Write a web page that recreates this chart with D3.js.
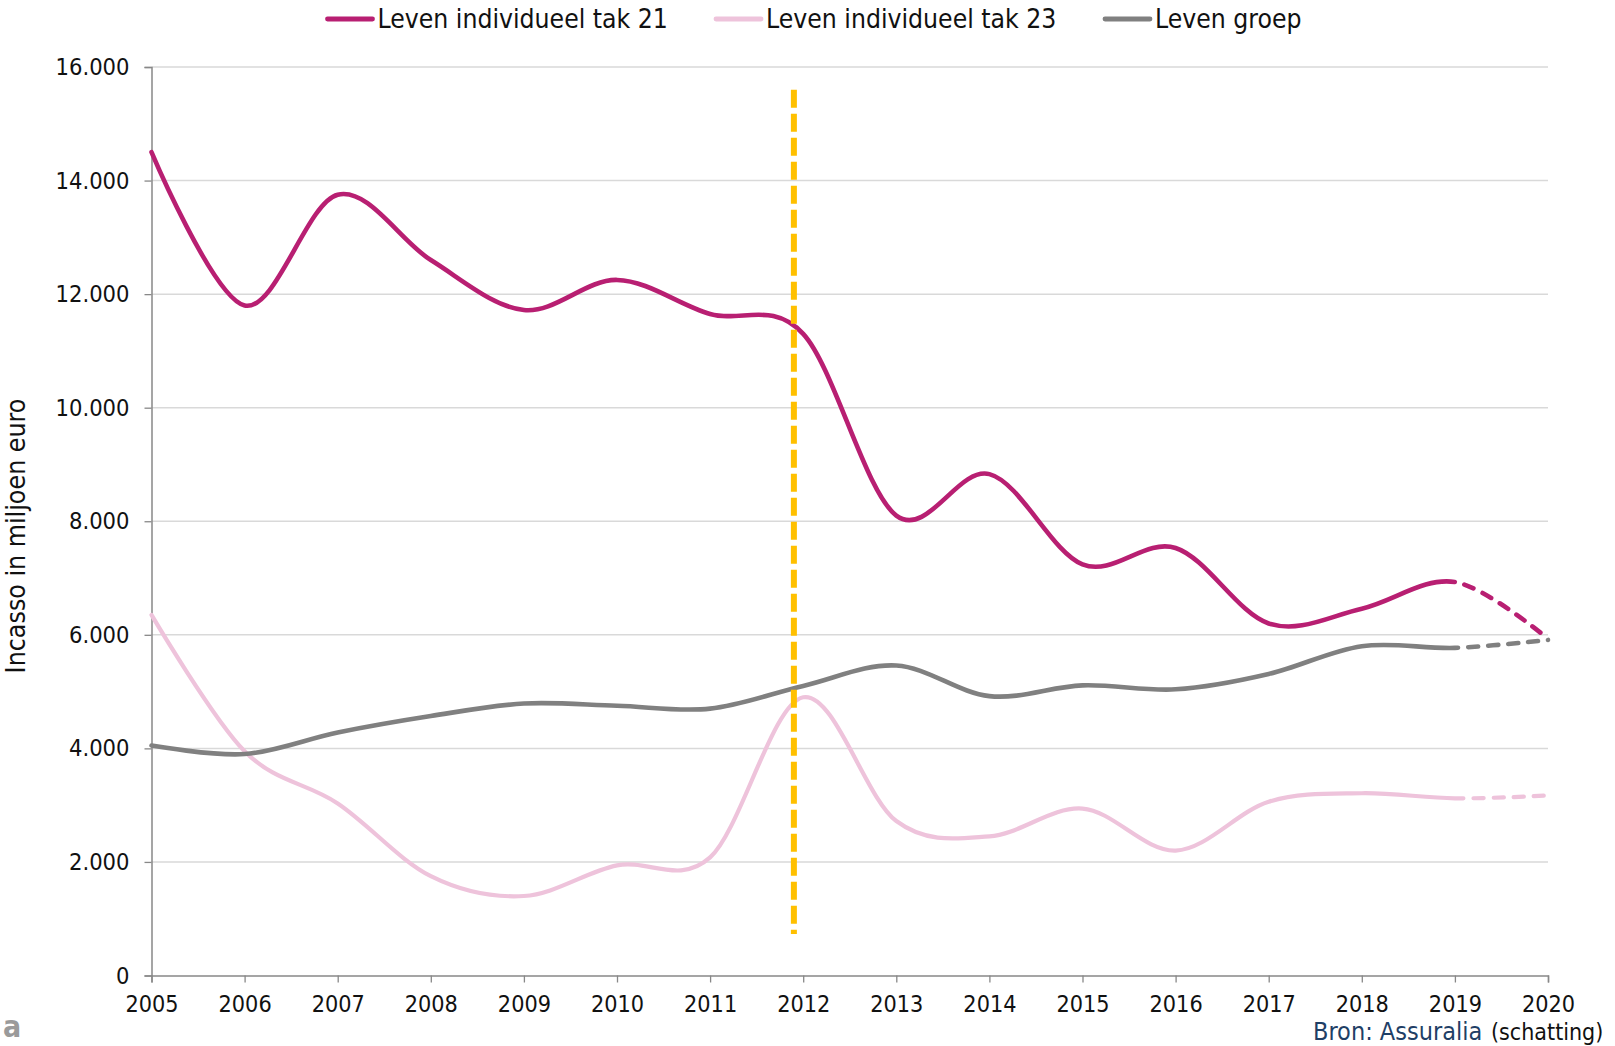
<!DOCTYPE html>
<html><head><meta charset="utf-8">
<script src="https://cdn.jsdelivr.net/npm/d3@7"></script>
<style>
html,body{margin:0;padding:0;background:#fff;overflow:hidden}
text{font-family:"DejaVu Sans Condensed","DejaVu Sans",sans-serif}
</style></head>
<body>
<svg id="chart" width="1615" height="1046"></svg>
<script>
const years = [2005,2006,2007,2008,2009,2010,2011,2012,2013,2014,2015,2016,2017,2018,2019,2020];
const xTickLabels = ["2005","2006","2007","2008","2009","2010","2011","2012","2013","2014","2015","2016","2017","2018","2019","2020"];
const tak21 = [14500,11800,13750,12600,11720,12250,11650,11300,8100,8830,7240,7530,6200,6460,6930,5930];
const tak23 = [6350,3950,3030,1750,1400,1940,2080,4900,2720,2450,2940,2200,3060,3210,3120,3170];
const groep = [4050,3900,4280,4570,4790,4750,4700,5100,5460,4920,5110,5040,5310,5800,5770,5910];
const yTicks = [0,2000,4000,6000,8000,10000,12000,14000,16000];
const seriesNames = ["Leven individueel tak 21","Leven individueel tak 23","Leven groep"];
const estimateFromYear = 2019;
const markerYear = 2011.9;
const markerRange = [730, 15600];

const colors = ["#B81F72","#EEC3DB","#808080"];
const svg = d3.select("#chart");
const W = 1615, H = 1046;
const m = {left:151.5, right:W-1548, top:67, bottom:H-975.5};
const x = d3.scaleLinear().domain([2005,2020]).range([m.left, W-m.right]);
const y = d3.scaleLinear().domain([0,16000]).range([H-m.bottom, m.top]);
const loc = d3.formatLocale({decimal:",", thousands:".", grouping:[3], currency:["",""]});
const fmt = loc.format(",");

// gridlines
svg.append("g").selectAll("line").data(yTicks.filter(d=>d>0)).join("line")
  .attr("x1", x(2005)).attr("x2", x(2020))
  .attr("y1", d=>y(d)).attr("y2", d=>y(d))
  .attr("stroke","#D9D9D9").attr("stroke-width",1.5);

// y axis
const yAxis = svg.append("g").attr("transform",`translate(${x(2005)},0)`)
  .call(d3.axisLeft(y).tickValues(yTicks).tickFormat(d=>fmt(d)).tickSize(7).tickPadding(15));
yAxis.select(".domain").attr("stroke","#888").attr("stroke-width",1.5);
yAxis.selectAll(".tick line").attr("stroke","#888").attr("stroke-width",1.3);
yAxis.selectAll("text").attr("font-size",23.5).attr("fill","#111").attr("font-family","DejaVu Sans Condensed");

// x axis
const xAxis = svg.append("g").attr("transform",`translate(0,${y(0)})`)
  .call(d3.axisBottom(x).tickValues(years).tickFormat((d,i)=>xTickLabels[i]).tickSize(7).tickPadding(13));
xAxis.select(".domain").attr("stroke","#888").attr("stroke-width",1.5);
xAxis.selectAll(".tick line").attr("stroke","#888").attr("stroke-width",1.3);
xAxis.selectAll("text").attr("font-size",23.2).attr("fill","#111").attr("font-family","DejaVu Sans Condensed");

// clips
const defs = svg.append("defs");
defs.append("clipPath").attr("id","solidClip").append("rect")
  .attr("x",0).attr("y",0).attr("width",x(estimateFromYear)).attr("height",H);
defs.append("clipPath").attr("id","dashClip").append("rect")
  .attr("x",x(estimateFromYear)).attr("y",0).attr("width",W).attr("height",H);

const line = d3.line().x(d=>x(d[0])).y(d=>y(d[1])).curve(d3.curveCatmullRom.alpha(0));
const allSeries = [tak21, tak23, groep];
const widths = [4.6, 4.2, 4.6];
// draw in order: pink, gray, magenta
[1,2,0].forEach(i=>{
  const pts = years.map((yr,j)=>[yr, allSeries[i][j]]);
  svg.append("path").attr("d", line(pts)).attr("fill","none")
    .attr("stroke", colors[i]).attr("stroke-width", widths[i]).attr("stroke-linecap","round")
    .attr("clip-path","url(#solidClip)");
  svg.append("path").attr("d", line(pts)).attr("fill","none")
    .attr("stroke", colors[i]).attr("stroke-width", widths[i]).attr("stroke-linecap","round")
    .attr("stroke-dasharray","10,10")
    .attr("clip-path","url(#dashClip)");
});

// marker vertical dashed
svg.append("line")
  .attr("x1", x(markerYear)).attr("x2", x(markerYear))
  .attr("y1", y(markerRange[1])).attr("y2", y(markerRange[0]))
  .attr("stroke","#FFC000").attr("stroke-width",6).attr("stroke-dasharray","18,6");

// y title
svg.append("text").attr("transform","translate(25,536) rotate(-90)")
  .attr("text-anchor","middle").attr("font-size",26.5).attr("fill","#111")
  .text("Incasso  in miljoen euro");

// legend
const legX = [327.5, 716, 1105];
const lg = svg.append("g");
seriesNames.forEach((n,i)=>{
  lg.append("line").attr("x1",legX[i]).attr("x2",legX[i]+45).attr("y1",19).attr("y2",19)
    .attr("stroke",colors[i]).attr("stroke-width",4.8).attr("stroke-linecap","round");
  lg.append("text").attr("x",legX[i]+50).attr("y",19).attr("dy","0.35em")
    .attr("font-size",26.3).attr("fill","#111").text(n);
});

// source
svg.append("text").attr("x",1313).attr("y",1040).attr("font-size",25)
  .attr("font-family","Liberation Sans, Arial, sans-serif").attr("fill","#1F3F66").text("Bron: Assuralia");
svg.append("text").attr("x",1491).attr("y",1040).attr("font-size",23)
  .attr("fill","#111").text("(schatting)");
svg.append("text").attr("x",3).attr("y",1037).attr("font-size",30).attr("font-weight","bold")
  .attr("font-family","Liberation Sans, Arial, sans-serif").attr("fill","#9a9a9a").text("a");
</script>
</body></html>
